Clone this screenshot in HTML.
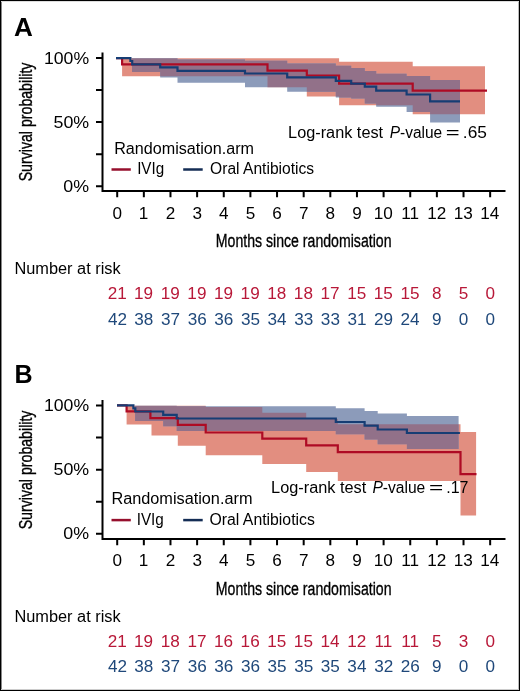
<!DOCTYPE html>
<html><head><meta charset="utf-8"><title>Survival curves</title>
<style>
html,body{margin:0;padding:0;background:#fff;}
body{width:520px;height:691px;overflow:hidden;}
svg{display:block;will-change:transform;}
text{font-family:"Liberation Sans",sans-serif;}
.cond{stroke:#000;stroke-width:0.35px;}
</style></head><body>
<svg width="520" height="691" viewBox="0 0 520 691">
<rect x="0" y="0" width="520" height="691" fill="#fff"/>
<rect x="0.5" y="0.5" width="519" height="690" fill="none" stroke="#000" stroke-width="1"/>
<path d="M1.5,1 V690" stroke="#888" stroke-width="1"/>
<path d="M518.5,1 V690" stroke="#bbb" stroke-width="1"/>
<path d="M1,1.5 H519" stroke="#ddd" stroke-width="1"/>
<path d="M1,689.5 H519" stroke="#ccc" stroke-width="1"/>
<g>
<clipPath id="rcA"><polygon points="122.1,58.3 267.5,58.3 267.5,58.3 306.8,58.3 306.8,58.3 339.1,58.3 339.1,61.8 412.7,61.8 412.7,66.3 485.0,66.3 485.0,114.2 412.7,114.2 412.7,105.2 339.1,105.2 339.1,96.4 306.8,96.4 306.8,87.3 267.5,87.3 267.5,76.3 122.1,76.3"/></clipPath>
<polygon points="122.1,58.3 267.5,58.3 267.5,58.3 306.8,58.3 306.8,58.3 339.1,58.3 339.1,61.8 412.7,61.8 412.7,66.3 485.0,66.3 485.0,114.2 412.7,114.2 412.7,105.2 339.1,105.2 339.1,96.4 306.8,96.4 306.8,87.3 267.5,87.3 267.5,76.3 122.1,76.3" fill="rgb(226,142,128)"/>
<polygon points="132.0,58.3 160.2,58.3 160.2,58.3 177.5,58.3 177.5,59.5 245.0,59.5 245.0,60.7 287.2,60.7 287.2,63.4 335.8,63.4 335.8,65.8 351.2,65.8 351.2,67.9 364.8,67.9 364.8,71.1 376.2,71.1 376.2,73.8 406.6,73.8 406.6,75.9 430.1,75.9 430.1,80.1 460.0,80.1 460.0,122.5 430.1,122.5 430.1,112.0 406.6,112.0 406.6,106.8 376.2,106.8 376.2,103.5 364.8,103.5 364.8,98.5 351.2,98.5 351.2,97.5 335.8,97.5 335.8,91.7 287.2,91.7 287.2,87.3 245.0,87.3 245.0,82.8 177.5,82.8 177.5,77.5 160.2,77.5 160.2,72.0 132.0,72.0" fill="rgb(140,155,186)"/>
<polygon points="132.0,58.3 160.2,58.3 160.2,58.3 177.5,58.3 177.5,59.5 245.0,59.5 245.0,60.7 287.2,60.7 287.2,63.4 335.8,63.4 335.8,65.8 351.2,65.8 351.2,67.9 364.8,67.9 364.8,71.1 376.2,71.1 376.2,73.8 406.6,73.8 406.6,75.9 430.1,75.9 430.1,80.1 460.0,80.1 460.0,122.5 430.1,122.5 430.1,112.0 406.6,112.0 406.6,106.8 376.2,106.8 376.2,103.5 364.8,103.5 364.8,98.5 351.2,98.5 351.2,97.5 335.8,97.5 335.8,91.7 287.2,91.7 287.2,87.3 245.0,87.3 245.0,82.8 177.5,82.8 177.5,77.5 160.2,77.5 160.2,72.0 132.0,72.0" fill="rgb(146,113,137)" clip-path="url(#rcA)"/>
<path d="M116,58.1 H122.1 V64.4 H267.5 V70.6 H306.8 V75.5 H339.1 V83.6 H412.7 V90.6 H487" fill="none" stroke="#AE0B24" stroke-width="2.2"/>
<path d="M116,58.1 H130.4 V61.0 H132.2 V64.3 H160.2 V67.3 H177.5 V70.8 H245 V73.5 H287.2 V77.3 H335.8 V80.9 H351.2 V83.7 H364.8 V86.6 H376.2 V90.7 H406.6 V94.5 H430.1 V101.4 H460" fill="none" stroke="#163D74" stroke-width="2.2"/>
<path d="M102.5,52.5 V192 M101.5,191 H505.5" fill="none" stroke="#000" stroke-width="2"/>
<path d="M96,58.00 H102 M96,90.05 H102 M96,122.10 H102 M96,154.15 H102 M96,186.20 H102 " stroke="#000" stroke-width="2"/>
<path d="M117.20,191 V197.2 M143.84,191 V197.2 M170.48,191 V197.2 M197.12,191 V197.2 M223.76,191 V197.2 M250.40,191 V197.2 M277.04,191 V197.2 M303.68,191 V197.2 M330.32,191 V197.2 M356.96,191 V197.2 M383.60,191 V197.2 M410.24,191 V197.2 M436.88,191 V197.2 M463.52,191 V197.2 M490.16,191 V197.2 " stroke="#000" stroke-width="2"/>
<text x="43.98" y="63.50" font-size="16" textLength="45.10" lengthAdjust="spacingAndGlyphs">100%</text>
<text x="53.49" y="127.60" font-size="16" textLength="35.66" lengthAdjust="spacingAndGlyphs">50%</text>
<text x="63.39" y="191.70" font-size="16" textLength="25.74" lengthAdjust="spacingAndGlyphs">0%</text>
<text x="112.45" y="218.7" font-size="16" textLength="9.52" lengthAdjust="spacingAndGlyphs">0</text>
<text x="138.88" y="218.7" font-size="16" textLength="9.52" lengthAdjust="spacingAndGlyphs">1</text>
<text x="165.73" y="218.7" font-size="16" textLength="9.52" lengthAdjust="spacingAndGlyphs">2</text>
<text x="192.41" y="218.7" font-size="16" textLength="9.52" lengthAdjust="spacingAndGlyphs">3</text>
<text x="219.05" y="218.7" font-size="16" textLength="9.52" lengthAdjust="spacingAndGlyphs">4</text>
<text x="245.65" y="218.7" font-size="16" textLength="9.52" lengthAdjust="spacingAndGlyphs">5</text>
<text x="272.25" y="218.7" font-size="16" textLength="9.52" lengthAdjust="spacingAndGlyphs">6</text>
<text x="298.93" y="218.7" font-size="16" textLength="9.52" lengthAdjust="spacingAndGlyphs">7</text>
<text x="325.53" y="218.7" font-size="16" textLength="9.52" lengthAdjust="spacingAndGlyphs">8</text>
<text x="352.21" y="218.7" font-size="16" textLength="9.52" lengthAdjust="spacingAndGlyphs">9</text>
<text x="373.80" y="218.7" font-size="16" textLength="19.04" lengthAdjust="spacingAndGlyphs">10</text>
<text x="401.17" y="218.7" font-size="16" textLength="17.77" lengthAdjust="spacingAndGlyphs">11</text>
<text x="427.16" y="218.7" font-size="16" textLength="19.04" lengthAdjust="spacingAndGlyphs">12</text>
<text x="453.76" y="218.7" font-size="16" textLength="19.04" lengthAdjust="spacingAndGlyphs">13</text>
<text x="480.27" y="218.7" font-size="16" textLength="19.04" lengthAdjust="spacingAndGlyphs">14</text>
<text class="cond" transform="translate(31.5,181.34) rotate(-90)" x="0" y="0" font-size="19.2" textLength="118.78" lengthAdjust="spacingAndGlyphs">Survival probability</text>
<text x="215.77" y="247" font-size="19.2" textLength="175.76" lengthAdjust="spacingAndGlyphs" class="cond">Months since randomisation</text>
<text x="13.95" y="35.5" font-size="25" font-weight="bold" textLength="18.86" lengthAdjust="spacingAndGlyphs">A</text>
<text x="114.21" y="153.7" font-size="16" textLength="139.85" lengthAdjust="spacingAndGlyphs">Randomisation.arm</text>
<path d="M111.5,169.5 H130.8" stroke="#960F2D" stroke-width="2.5"/>
<path d="M183.2,169.5 H202.7" stroke="#142D55" stroke-width="2.5"/>
<text x="137.13" y="174.3" font-size="16" textLength="27.04" lengthAdjust="spacingAndGlyphs">IVIg</text>
<text x="210.10" y="174.3" font-size="16" textLength="104.04" lengthAdjust="spacingAndGlyphs">Oral Antibiotics</text>
<text x="288.10" y="137.7" font-size="16" textLength="95.01" lengthAdjust="spacingAndGlyphs">Log-rank test</text>
<text x="389.74" y="137.7" font-size="16" textLength="52.44" lengthAdjust="spacingAndGlyphs"><tspan font-style="italic">P</tspan>-value</text>
<text x="445.71" y="137.7" font-size="16" textLength="13.85" lengthAdjust="spacingAndGlyphs">=</text>
<text x="462.84" y="137.7" font-size="16" textLength="24.05" lengthAdjust="spacingAndGlyphs">.65</text>
<text x="14.49" y="273.5" font-size="16" textLength="106.13" lengthAdjust="spacingAndGlyphs">Number at risk</text>
<text x="107.70" y="299.3" font-size="16" fill="#B81838" textLength="19.04" lengthAdjust="spacingAndGlyphs">21</text>
<text x="107.91" y="324.8" font-size="16" fill="#1F487A" textLength="19.04" lengthAdjust="spacingAndGlyphs">42</text>
<text x="134.08" y="299.3" font-size="16" fill="#B81838" textLength="19.04" lengthAdjust="spacingAndGlyphs">19</text>
<text x="134.34" y="324.8" font-size="16" fill="#1F487A" textLength="19.04" lengthAdjust="spacingAndGlyphs">38</text>
<text x="160.72" y="299.3" font-size="16" fill="#B81838" textLength="19.04" lengthAdjust="spacingAndGlyphs">19</text>
<text x="161.06" y="324.8" font-size="16" fill="#1F487A" textLength="19.04" lengthAdjust="spacingAndGlyphs">37</text>
<text x="187.36" y="299.3" font-size="16" fill="#B81838" textLength="19.04" lengthAdjust="spacingAndGlyphs">19</text>
<text x="187.66" y="324.8" font-size="16" fill="#1F487A" textLength="19.04" lengthAdjust="spacingAndGlyphs">36</text>
<text x="214.00" y="299.3" font-size="16" fill="#B81838" textLength="19.04" lengthAdjust="spacingAndGlyphs">19</text>
<text x="214.30" y="324.8" font-size="16" fill="#1F487A" textLength="19.04" lengthAdjust="spacingAndGlyphs">36</text>
<text x="240.64" y="299.3" font-size="16" fill="#B81838" textLength="19.04" lengthAdjust="spacingAndGlyphs">19</text>
<text x="240.90" y="324.8" font-size="16" fill="#1F487A" textLength="19.04" lengthAdjust="spacingAndGlyphs">35</text>
<text x="267.24" y="299.3" font-size="16" fill="#B81838" textLength="19.04" lengthAdjust="spacingAndGlyphs">18</text>
<text x="267.45" y="324.8" font-size="16" fill="#1F487A" textLength="19.04" lengthAdjust="spacingAndGlyphs">34</text>
<text x="293.88" y="299.3" font-size="16" fill="#B81838" textLength="19.04" lengthAdjust="spacingAndGlyphs">18</text>
<text x="294.22" y="324.8" font-size="16" fill="#1F487A" textLength="19.04" lengthAdjust="spacingAndGlyphs">33</text>
<text x="320.60" y="299.3" font-size="16" fill="#B81838" textLength="19.04" lengthAdjust="spacingAndGlyphs">17</text>
<text x="320.86" y="324.8" font-size="16" fill="#1F487A" textLength="19.04" lengthAdjust="spacingAndGlyphs">33</text>
<text x="347.16" y="299.3" font-size="16" fill="#B81838" textLength="19.04" lengthAdjust="spacingAndGlyphs">15</text>
<text x="347.54" y="324.8" font-size="16" fill="#1F487A" textLength="19.04" lengthAdjust="spacingAndGlyphs">31</text>
<text x="373.80" y="299.3" font-size="16" fill="#B81838" textLength="19.04" lengthAdjust="spacingAndGlyphs">15</text>
<text x="374.06" y="324.8" font-size="16" fill="#1F487A" textLength="19.04" lengthAdjust="spacingAndGlyphs">29</text>
<text x="400.44" y="299.3" font-size="16" fill="#B81838" textLength="19.04" lengthAdjust="spacingAndGlyphs">15</text>
<text x="400.57" y="324.8" font-size="16" fill="#1F487A" textLength="19.04" lengthAdjust="spacingAndGlyphs">24</text>
<text x="432.09" y="299.3" font-size="16" fill="#B81838" textLength="9.52" lengthAdjust="spacingAndGlyphs">8</text>
<text x="432.13" y="324.8" font-size="16" fill="#1F487A" textLength="9.52" lengthAdjust="spacingAndGlyphs">9</text>
<text x="458.77" y="299.3" font-size="16" fill="#B81838" textLength="9.52" lengthAdjust="spacingAndGlyphs">5</text>
<text x="458.77" y="324.8" font-size="16" fill="#1F487A" textLength="9.52" lengthAdjust="spacingAndGlyphs">0</text>
<text x="485.41" y="299.3" font-size="16" fill="#B81838" textLength="9.52" lengthAdjust="spacingAndGlyphs">0</text>
<text x="485.41" y="324.8" font-size="16" fill="#1F487A" textLength="9.52" lengthAdjust="spacingAndGlyphs">0</text>
</g>
<g>
<clipPath id="rcB"><polygon points="126.6,405.8 151.5,405.8 151.5,405.8 177.8,405.8 177.8,405.8 205.7,405.8 205.7,407.0 262.3,407.0 262.3,412.8 306.2,412.8 306.2,419.0 337.8,419.0 337.8,424.3 460.5,424.3 460.5,431.9 476.1,431.9 476.1,515.6 460.5,515.6 460.5,481.0 337.8,481.0 337.8,472.0 306.2,472.0 306.2,464.0 262.3,464.0 262.3,455.2 205.7,455.2 205.7,445.8 177.8,445.8 177.8,435.5 151.5,435.5 151.5,424.4 126.6,424.4"/></clipPath>
<polygon points="126.6,405.8 151.5,405.8 151.5,405.8 177.8,405.8 177.8,405.8 205.7,405.8 205.7,407.0 262.3,407.0 262.3,412.8 306.2,412.8 306.2,419.0 337.8,419.0 337.8,424.3 460.5,424.3 460.5,431.9 476.1,431.9 476.1,515.6 460.5,515.6 460.5,481.0 337.8,481.0 337.8,472.0 306.2,472.0 306.2,464.0 262.3,464.0 262.3,455.2 205.7,455.2 205.7,445.8 177.8,445.8 177.8,435.5 151.5,435.5 151.5,424.4 126.6,424.4" fill="rgb(226,142,128)"/>
<polygon points="135.1,405.8 163.2,405.8 163.2,405.8 176.7,405.8 176.7,406.3 335.8,406.3 335.8,408.3 364.6,408.3 364.6,411.1 377.7,411.1 377.7,413.4 406.9,413.4 406.9,416.0 458.6,416.0 458.6,449.0 406.9,449.0 406.9,444.2 377.7,444.2 377.7,439.5 364.6,439.5 364.6,434.3 335.8,434.3 335.8,431.0 176.7,431.0 176.7,426.3 163.2,426.3 163.2,421.0 135.1,421.0" fill="rgb(140,155,186)"/>
<polygon points="135.1,405.8 163.2,405.8 163.2,405.8 176.7,405.8 176.7,406.3 335.8,406.3 335.8,408.3 364.6,408.3 364.6,411.1 377.7,411.1 377.7,413.4 406.9,413.4 406.9,416.0 458.6,416.0 458.6,449.0 406.9,449.0 406.9,444.2 377.7,444.2 377.7,439.5 364.6,439.5 364.6,434.3 335.8,434.3 335.8,431.0 176.7,431.0 176.7,426.3 163.2,426.3 163.2,421.0 135.1,421.0" fill="rgb(146,113,137)" clip-path="url(#rcB)"/>
<path d="M117,405.4 H126.6 V411.4 H150.4 V418.2 H177.8 V424.9 H205.7 V432.5 H262.3 V438.6 H306.2 V445.4 H337.8 V452.2 H460.5 V474.2 H476.5" fill="none" stroke="#AE0B24" stroke-width="2.2"/>
<path d="M117,405.4 H133.4 V408.4 H135.3 V411.5 H163.2 V414.8 H176.7 V418.5 H335.8 V422 H364.6 V425.7 H377.7 V429.5 H406.9 V433 H459.9" fill="none" stroke="#163D74" stroke-width="2.2"/>
<path d="M102.5,400.0 V540 M101.5,539 H505.5" fill="none" stroke="#000" stroke-width="2"/>
<path d="M96,405.50 H102 M96,437.57 H102 M96,469.64 H102 M96,501.71 H102 M96,533.78 H102 " stroke="#000" stroke-width="2"/>
<path d="M117.20,539 V545.2 M143.84,539 V545.2 M170.48,539 V545.2 M197.12,539 V545.2 M223.76,539 V545.2 M250.40,539 V545.2 M277.04,539 V545.2 M303.68,539 V545.2 M330.32,539 V545.2 M356.96,539 V545.2 M383.60,539 V545.2 M410.24,539 V545.2 M436.88,539 V545.2 M463.52,539 V545.2 M490.16,539 V545.2 " stroke="#000" stroke-width="2"/>
<text x="43.98" y="411.00" font-size="16" textLength="45.10" lengthAdjust="spacingAndGlyphs">100%</text>
<text x="53.49" y="475.14" font-size="16" textLength="35.66" lengthAdjust="spacingAndGlyphs">50%</text>
<text x="63.39" y="539.28" font-size="16" textLength="25.74" lengthAdjust="spacingAndGlyphs">0%</text>
<text x="112.45" y="566.4911999999999" font-size="16" textLength="9.52" lengthAdjust="spacingAndGlyphs">0</text>
<text x="138.88" y="566.4911999999999" font-size="16" textLength="9.52" lengthAdjust="spacingAndGlyphs">1</text>
<text x="165.73" y="566.4911999999999" font-size="16" textLength="9.52" lengthAdjust="spacingAndGlyphs">2</text>
<text x="192.41" y="566.4911999999999" font-size="16" textLength="9.52" lengthAdjust="spacingAndGlyphs">3</text>
<text x="219.05" y="566.4911999999999" font-size="16" textLength="9.52" lengthAdjust="spacingAndGlyphs">4</text>
<text x="245.65" y="566.4911999999999" font-size="16" textLength="9.52" lengthAdjust="spacingAndGlyphs">5</text>
<text x="272.25" y="566.4911999999999" font-size="16" textLength="9.52" lengthAdjust="spacingAndGlyphs">6</text>
<text x="298.93" y="566.4911999999999" font-size="16" textLength="9.52" lengthAdjust="spacingAndGlyphs">7</text>
<text x="325.53" y="566.4911999999999" font-size="16" textLength="9.52" lengthAdjust="spacingAndGlyphs">8</text>
<text x="352.21" y="566.4911999999999" font-size="16" textLength="9.52" lengthAdjust="spacingAndGlyphs">9</text>
<text x="373.80" y="566.4911999999999" font-size="16" textLength="19.04" lengthAdjust="spacingAndGlyphs">10</text>
<text x="401.17" y="566.4911999999999" font-size="16" textLength="17.77" lengthAdjust="spacingAndGlyphs">11</text>
<text x="427.16" y="566.4911999999999" font-size="16" textLength="19.04" lengthAdjust="spacingAndGlyphs">12</text>
<text x="453.76" y="566.4911999999999" font-size="16" textLength="19.04" lengthAdjust="spacingAndGlyphs">13</text>
<text x="480.27" y="566.4911999999999" font-size="16" textLength="19.04" lengthAdjust="spacingAndGlyphs">14</text>
<text class="cond" transform="translate(31.5,529.34) rotate(-90)" x="0" y="0" font-size="19.2" textLength="118.78" lengthAdjust="spacingAndGlyphs">Survival probability</text>
<text x="215.77" y="595" font-size="19.2" textLength="175.76" lengthAdjust="spacingAndGlyphs" class="cond">Months since randomisation</text>
<text x="14.57" y="383.1" font-size="25" font-weight="bold" textLength="18.11" lengthAdjust="spacingAndGlyphs">B</text>
<text x="111.40" y="504.2" font-size="16" textLength="141.07" lengthAdjust="spacingAndGlyphs">Randomisation.arm</text>
<path d="M111.5,520.1 H130.8" stroke="#960F2D" stroke-width="2.5"/>
<path d="M183.2,520.1 H202.7" stroke="#142D55" stroke-width="2.5"/>
<text x="136.73" y="524.7" font-size="16" textLength="27.04" lengthAdjust="spacingAndGlyphs">IVIg</text>
<text x="209.49" y="524.7" font-size="16" textLength="105.36" lengthAdjust="spacingAndGlyphs">Oral Antibiotics</text>
<text x="271.09" y="492.7" font-size="16" textLength="95.21" lengthAdjust="spacingAndGlyphs">Log-rank test</text>
<text x="372.43" y="492.7" font-size="16" textLength="52.85" lengthAdjust="spacingAndGlyphs"><tspan font-style="italic">P</tspan>-value</text>
<text x="428.98" y="492.7" font-size="16" textLength="14.21" lengthAdjust="spacingAndGlyphs">=</text>
<text x="446.26" y="492.7" font-size="16" textLength="22.24" lengthAdjust="spacingAndGlyphs">.17</text>
<text x="14.49" y="621.5" font-size="16" textLength="106.13" lengthAdjust="spacingAndGlyphs">Number at risk</text>
<text x="107.70" y="646.9" font-size="16" fill="#B81838" textLength="19.04" lengthAdjust="spacingAndGlyphs">21</text>
<text x="107.91" y="672.2" font-size="16" fill="#1F487A" textLength="19.04" lengthAdjust="spacingAndGlyphs">42</text>
<text x="134.08" y="646.9" font-size="16" fill="#B81838" textLength="19.04" lengthAdjust="spacingAndGlyphs">19</text>
<text x="134.34" y="672.2" font-size="16" fill="#1F487A" textLength="19.04" lengthAdjust="spacingAndGlyphs">38</text>
<text x="160.68" y="646.9" font-size="16" fill="#B81838" textLength="19.04" lengthAdjust="spacingAndGlyphs">18</text>
<text x="161.06" y="672.2" font-size="16" fill="#1F487A" textLength="19.04" lengthAdjust="spacingAndGlyphs">37</text>
<text x="187.40" y="646.9" font-size="16" fill="#B81838" textLength="19.04" lengthAdjust="spacingAndGlyphs">17</text>
<text x="187.66" y="672.2" font-size="16" fill="#1F487A" textLength="19.04" lengthAdjust="spacingAndGlyphs">36</text>
<text x="214.00" y="646.9" font-size="16" fill="#B81838" textLength="19.04" lengthAdjust="spacingAndGlyphs">16</text>
<text x="214.30" y="672.2" font-size="16" fill="#1F487A" textLength="19.04" lengthAdjust="spacingAndGlyphs">36</text>
<text x="240.64" y="646.9" font-size="16" fill="#B81838" textLength="19.04" lengthAdjust="spacingAndGlyphs">16</text>
<text x="240.94" y="672.2" font-size="16" fill="#1F487A" textLength="19.04" lengthAdjust="spacingAndGlyphs">36</text>
<text x="267.24" y="646.9" font-size="16" fill="#B81838" textLength="19.04" lengthAdjust="spacingAndGlyphs">15</text>
<text x="267.54" y="672.2" font-size="16" fill="#1F487A" textLength="19.04" lengthAdjust="spacingAndGlyphs">35</text>
<text x="293.88" y="646.9" font-size="16" fill="#B81838" textLength="19.04" lengthAdjust="spacingAndGlyphs">15</text>
<text x="294.18" y="672.2" font-size="16" fill="#1F487A" textLength="19.04" lengthAdjust="spacingAndGlyphs">35</text>
<text x="320.43" y="646.9" font-size="16" fill="#B81838" textLength="19.04" lengthAdjust="spacingAndGlyphs">14</text>
<text x="320.82" y="672.2" font-size="16" fill="#1F487A" textLength="19.04" lengthAdjust="spacingAndGlyphs">35</text>
<text x="347.24" y="646.9" font-size="16" fill="#B81838" textLength="19.04" lengthAdjust="spacingAndGlyphs">12</text>
<text x="347.37" y="672.2" font-size="16" fill="#1F487A" textLength="19.04" lengthAdjust="spacingAndGlyphs">34</text>
<text x="374.53" y="646.9" font-size="16" fill="#B81838" textLength="17.77" lengthAdjust="spacingAndGlyphs">11</text>
<text x="374.18" y="672.2" font-size="16" fill="#1F487A" textLength="19.04" lengthAdjust="spacingAndGlyphs">32</text>
<text x="401.17" y="646.9" font-size="16" fill="#B81838" textLength="17.77" lengthAdjust="spacingAndGlyphs">11</text>
<text x="400.70" y="672.2" font-size="16" fill="#1F487A" textLength="19.04" lengthAdjust="spacingAndGlyphs">26</text>
<text x="432.13" y="646.9" font-size="16" fill="#B81838" textLength="9.52" lengthAdjust="spacingAndGlyphs">5</text>
<text x="432.13" y="672.2" font-size="16" fill="#1F487A" textLength="9.52" lengthAdjust="spacingAndGlyphs">9</text>
<text x="458.81" y="646.9" font-size="16" fill="#B81838" textLength="9.52" lengthAdjust="spacingAndGlyphs">3</text>
<text x="458.77" y="672.2" font-size="16" fill="#1F487A" textLength="9.52" lengthAdjust="spacingAndGlyphs">0</text>
<text x="485.41" y="646.9" font-size="16" fill="#B81838" textLength="9.52" lengthAdjust="spacingAndGlyphs">0</text>
<text x="485.41" y="672.2" font-size="16" fill="#1F487A" textLength="9.52" lengthAdjust="spacingAndGlyphs">0</text>
</g>
</svg>
</body></html>
